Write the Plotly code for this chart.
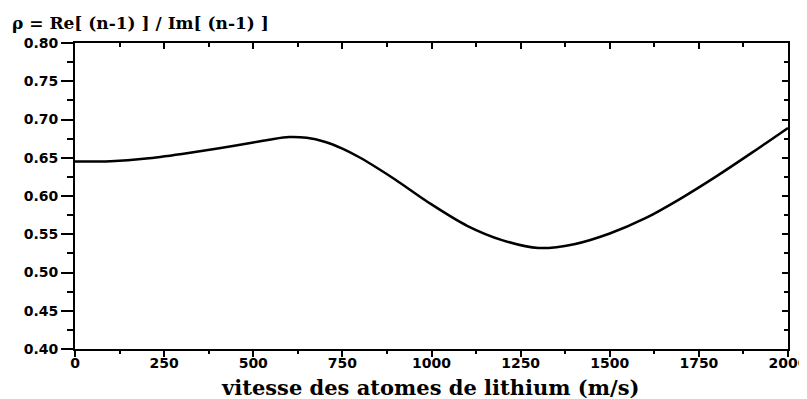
import plotly.graph_objects as go

# vitesse (m/s) et rapport rho
vitesse = [0, 100, 200, 300, 400, 500, 550, 600, 650, 700, 750, 800, 850, 900, 1000,
           1100, 1200, 1300, 1400, 1500, 1600, 1700, 1800, 1900, 2000]
rho = [0.645, 0.6455, 0.649, 0.655, 0.662, 0.670, 0.674, 0.677, 0.676, 0.671, 0.662,
       0.650, 0.636, 0.621, 0.589, 0.561, 0.542, 0.532, 0.537, 0.551, 0.571, 0.597,
       0.626, 0.657, 0.689]

x_ticks = [0, 250, 500, 750, 1000, 1250, 1500, 1750, 2000]
x_minor = [125, 375, 625, 875, 1125, 1375, 1625, 1875]
y_ticks = [0.40, 0.45, 0.50, 0.55, 0.60, 0.65, 0.70, 0.75, 0.80]

tick_font = dict(family="DejaVu Sans", size=14, color="black", weight="bold")
serif = "DejaVu Serif"

fig = go.Figure()
fig.add_trace(go.Scatter(x=vitesse, y=rho, mode="lines",
                         line=dict(color="black", width=2.5, shape="spline", smoothing=0.8),
                         showlegend=False))

axis_common = dict(showgrid=False, zeroline=False, showline=True, automargin=False,
                   linecolor="black", linewidth=2, tickwidth=2, tickcolor="black")

# la page ajoute 8 px de marge autour du graphe : on en tient compte ici
fig.update_layout(
    width=799, height=391,
    margin=dict(l=67, r=19, t=35, b=50),
    plot_bgcolor="white", paper_bgcolor="white",
    xaxis=dict(range=[0, 2000], tickvals=x_ticks, ticktext=[str(v) for v in x_ticks],
               ticks="outside", ticklen=6, tickfont=tick_font, ticklabelstandoff=-6,
               ticklabeloverflow="allow",
               minor=dict(ticks="outside", tickvals=x_minor,
                          ticklen=3, tickwidth=2, tickcolor="black"),
               **axis_common),
    yaxis=dict(range=[0.40, 0.80], tickvals=y_ticks,
               ticktext=["%.2f" % v for v in y_ticks],
               ticks="outside", ticklen=12, tickfont=tick_font,
               minor=dict(ticks="outside", dtick=0.025, tick0=0.4, ticklen=6, tickwidth=2,
                          tickcolor="black"),
               **axis_common),
    xaxis2=dict(range=[0, 2000], overlaying="x", side="top", anchor="y", tickvals=x_ticks,
                showticklabels=False, ticks="inside", ticklen=6,
                minor=dict(ticks="inside", tickvals=x_minor,
                           ticklen=4, tickwidth=2, tickcolor="black"),
                **axis_common),
    yaxis2=dict(range=[0.40, 0.80], overlaying="y", side="right", anchor="x", tickvals=y_ticks,
                showticklabels=False, ticks="inside", ticklen=6,
                minor=dict(ticks="inside", dtick=0.025, tick0=0.4, ticklen=4, tickwidth=2,
                           tickcolor="black"),
                **axis_common),
)

# trace invisible pour activer les axes du haut et de droite
fig.add_trace(go.Scatter(x=[0, 2000], y=[0.4, 0.8], xaxis="x2", yaxis="y2", mode="markers",
                         marker=dict(opacity=0), showlegend=False, hoverinfo="skip"))

fig.add_annotation(text="ρ = Re[ (n-1) ] / Im[ (n-1) ]", xref="paper", yref="paper",
                   x=-0.091, y=1.064, xanchor="left", yanchor="middle", showarrow=False,
                   font=dict(family=serif, size=17, color="black", weight="bold"))

fig.add_annotation(text="vitesse des atomes de lithium (m/s)", xref="paper", yref="paper",
                   x=0.498, y=-0.127, xanchor="center", yanchor="middle", showarrow=False,
                   font=dict(family=serif, size=21, color="black", weight="bold"))

fig.write_html("out.html")
